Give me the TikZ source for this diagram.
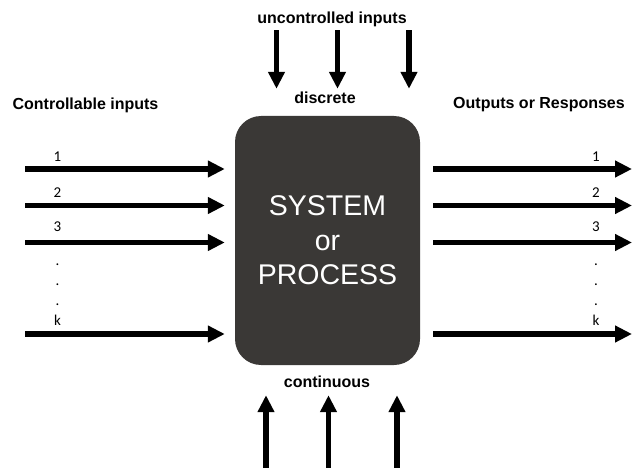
\documentclass[tikz,border=0pt]{standalone}
\usepackage{fontspec}
\setmainfont{Liberation Sans}
\newfontfamily\numfont{Carlito}
\usetikzlibrary{arrows.meta}
\definecolor{boxgray}{RGB}{58,56,54}
\tikzset{fat/.style={line width=5.5pt,-{Triangle[length=17pt,width=16pt]}},
  numlab/.style={font=\numfont\fontsize{15}{15}\selectfont},
  headlab/.style={font=\bfseries\fontsize{16}{17}\selectfont}}
\begin{document}
\begin{tikzpicture}[x=1pt,y=-1pt]
\useasboundingbox (0,0) rectangle (632,468);
\node (sys) at (327.5,240.5) [fill=boxgray, rounded corners=26pt, minimum width=185pt, minimum height=249pt, text=white, align=center, font=\fontsize{28.5}{34.5}\selectfont] {SYSTEM\\or\\PROCESS};

% titles
\node (ctl) at (85.5,105) [headlab] {Controllable inputs};
\node (out) at (539,105) [headlab] {Outputs or Responses};
\node (unc) at (332,19) [headlab] {uncontrolled inputs};
\node (dis) at (325,98) [headlab] {discrete};
\node (con) at (327,382) [headlab] {continuous};

% controllable inputs
\coordinate (i1) at (25,169);
\coordinate (i2) at (25,205.5);
\coordinate (i3) at (25,242.5);
\coordinate (ik) at (25,334);
\node (li1) at (57.5,156.5) [numlab] {1};
\node (li2) at (57.5,193) [numlab] {2};
\node (li3) at (57.5,226.5) [numlab] {3};
\node (di1) at (57.5,265) [numlab] {.};
\node (di2) at (57.5,285) [numlab] {.};
\node (di3) at (57.5,305) [numlab] {.};
\node (lik) at (57.5,320) [numlab] {k};

\draw[fat,shorten >=10pt] (i1) to (i1 -| sys.west);
\draw[fat,shorten >=10pt] (i2) to (i2 -| sys.west);
\draw[fat,shorten >=10pt] (i3) to (i3 -| sys.west);
\draw[fat,shorten >=10pt] (ik) to (ik -| sys.west);

% outputs
\coordinate (o1) at (632,169);
\coordinate (o2) at (632,205.5);
\coordinate (o3) at (632,242.5);
\coordinate (ok) at (632,334);
\node (lo1) at (596,156.5) [numlab] {1};
\node (lo2) at (596,193) [numlab] {2};
\node (lo3) at (596,226.5) [numlab] {3};
\node (do1) at (596,265) [numlab] {.};
\node (do2) at (596,285) [numlab] {.};
\node (do3) at (596,305) [numlab] {.};
\node (lok) at (596,320) [numlab] {k};

\draw[fat,shorten <=13pt] (o1 -| sys.east) to (o1);
\draw[fat,shorten <=13pt] (o2 -| sys.east) to (o2);
\draw[fat,shorten <=13pt] (o3 -| sys.east) to (o3);
\draw[fat,shorten <=13pt] (ok -| sys.east) to (ok);

% uncontrolled inputs
\coordinate (u1) at (276.5,30.5);
\coordinate (u2) at (337.5,30.5);
\coordinate (u3) at (409,30.5);
\draw[fat,shorten >=27pt] (u1) to (u1 |- sys.north);
\draw[fat,shorten >=27pt] (u2) to (u2 |- sys.north);
\draw[fat,shorten >=27pt] (u3) to (u3 |- sys.north);

\coordinate (c1) at (266,468);
\coordinate (c2) at (328.5,468);
\coordinate (c3) at (397,468);
\draw[fat,shorten >=30pt] (c1) to (c1 |- sys.south);
\draw[fat,shorten >=30pt] (c2) to (c2 |- sys.south);
\draw[fat,shorten >=30pt] (c3) to (c3 |- sys.south);
\end{tikzpicture}
\end{document}
